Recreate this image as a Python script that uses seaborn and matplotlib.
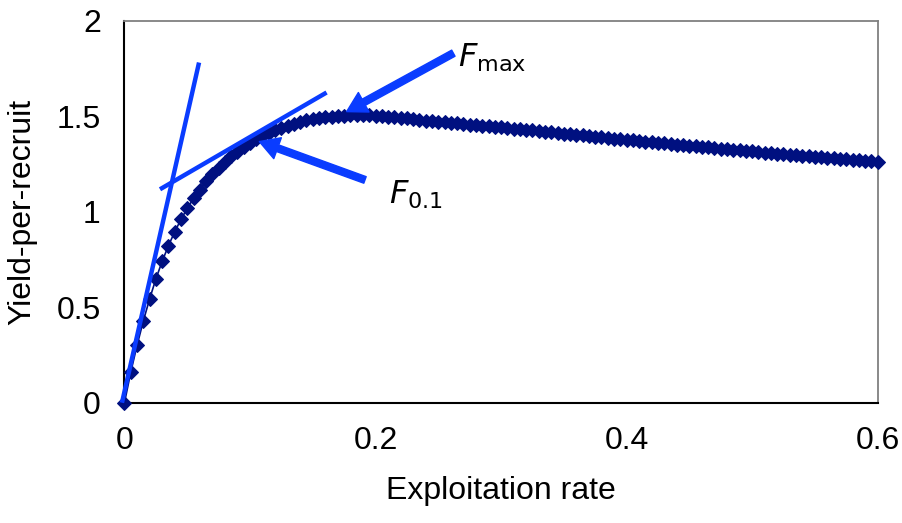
import matplotlib
matplotlib.use("Agg")
import matplotlib.pyplot as plt
import pandas as pd
import seaborn as sns

# exploitation rate grid and yield-per-recruit
rate = [0.000, 0.005, 0.010, 0.015, 0.020, 0.025, 0.030, 0.035, 0.040, 0.045,
        0.050, 0.055, 0.060, 0.065, 0.070, 0.075, 0.080, 0.085, 0.090, 0.095,
        0.100, 0.105, 0.110, 0.115, 0.120, 0.125, 0.130, 0.135, 0.140, 0.145,
        0.150, 0.155, 0.160, 0.165, 0.170, 0.175, 0.180, 0.185, 0.190, 0.195,
        0.200, 0.205, 0.210, 0.215, 0.220, 0.225, 0.230, 0.235, 0.240, 0.245,
        0.250, 0.255, 0.260, 0.265, 0.270, 0.275, 0.280, 0.285, 0.290, 0.295,
        0.300, 0.305, 0.310, 0.315, 0.320, 0.325, 0.330, 0.335, 0.340, 0.345,
        0.350, 0.355, 0.360, 0.365, 0.370, 0.375, 0.380, 0.385, 0.390, 0.395,
        0.400, 0.405, 0.410, 0.415, 0.420, 0.425, 0.430, 0.435, 0.440, 0.445,
        0.450, 0.455, 0.460, 0.465, 0.470, 0.475, 0.480, 0.485, 0.490, 0.495,
        0.500, 0.505, 0.510, 0.515, 0.520, 0.525, 0.530, 0.535, 0.540, 0.545,
        0.550, 0.555, 0.560, 0.565, 0.570, 0.575, 0.580, 0.585, 0.590, 0.595,
        0.600]
ypr = [0.000, 0.160, 0.300, 0.428, 0.543, 0.648, 0.740, 0.822, 0.895, 0.960,
       1.018, 1.070, 1.116, 1.160, 1.198, 1.232, 1.262, 1.290, 1.315, 1.340,
       1.362, 1.382, 1.400, 1.415, 1.429, 1.441, 1.452, 1.462, 1.471, 1.479,
       1.486, 1.491, 1.496, 1.499, 1.502, 1.504, 1.505, 1.506, 1.506, 1.505,
       1.504, 1.502, 1.499, 1.496, 1.493, 1.489, 1.485, 1.481, 1.478, 1.475,
       1.472, 1.469, 1.466, 1.463, 1.460, 1.457, 1.454, 1.451, 1.448, 1.445,
       1.442, 1.439, 1.436, 1.433, 1.430, 1.427, 1.424, 1.420, 1.417, 1.414,
       1.410, 1.407, 1.404, 1.400, 1.397, 1.394, 1.390, 1.387, 1.384, 1.380,
       1.377, 1.374, 1.370, 1.367, 1.364, 1.361, 1.358, 1.355, 1.352, 1.349,
       1.346, 1.343, 1.340, 1.337, 1.334, 1.331, 1.328, 1.325, 1.322, 1.319,
       1.316, 1.313, 1.310, 1.308, 1.305, 1.302, 1.299, 1.297, 1.294, 1.291,
       1.288, 1.286, 1.283, 1.280, 1.278, 1.275, 1.272, 1.270, 1.267, 1.265,
       1.262]

# tangent lines (slope at origin, and the F0.1 tangent)
origin_tan_x = [-0.002, 0.0594]
origin_tan_y = [0.0, 1.782]
f01_tan_x = [0.0283, 0.161]
f01_tan_y = [1.118, 1.625]

# arrows: (tail, tip) in data units
fmax_arrow = [(0.262, 1.831), (0.177, 1.525)]
f01_arrow = [(0.1916, 1.167), (0.1074, 1.368)]

x_ticks = [0, 0.2, 0.4, 0.6]
x_tick_labels = ["0", "0.2", "0.4", "0.6"]
y_ticks = [0, 0.5, 1, 1.5, 2]
y_tick_labels = ["0", "0.5", "1", "1.5", "2"]

navy = "#001080"
blue = "#0A3CFF"

sns.set_theme(style="white")
plt.rcParams["font.family"] = ["Liberation Sans", "DejaVu Sans"]
plt.rcParams["mathtext.fontset"] = "dejavusans"

df = pd.DataFrame({"rate": rate, "ypr": ypr})

fig, ax = plt.subplots(figsize=(9.02, 5.23), dpi=100)
fig.subplots_adjust(left=0.138, right=0.973, bottom=0.23, top=0.96)

sns.lineplot(data=df, x="rate", y="ypr", ax=ax, color=navy, linewidth=1.2,
             marker="D", markersize=7, markeredgecolor=navy, clip_on=False,
             zorder=3)

ax.plot(origin_tan_x, origin_tan_y, color=blue, lw=3.2, zorder=4,
        solid_capstyle="butt", clip_on=False)
ax.plot(f01_tan_x, f01_tan_y, color=blue, lw=3.2, zorder=4,
        solid_capstyle="butt")

for tail, tip in (fmax_arrow, f01_arrow):
    ax.annotate("", xy=tip, xytext=tail,
                arrowprops=dict(facecolor=blue, edgecolor=blue, width=5,
                                headwidth=16, headlength=14, shrink=0))

ax.text(0.266, 1.761, r"$F_{\mathrm{max}}$", fontsize=23,
        family="DejaVu Sans", ha="left", va="baseline", color="black")
ax.text(0.211, 1.045, r"$F_{0.1}$", fontsize=23,
        family="DejaVu Sans", ha="left", va="baseline", color="black")

ax.set_xlim(0, 0.6)
ax.set_ylim(0, 2)
ax.set_xticks(x_ticks)
ax.set_xticklabels(x_tick_labels)
ax.set_yticks(y_ticks)
ax.set_yticklabels(y_tick_labels)
ax.tick_params(axis="both", direction="out", length=7, width=1.3,
               color="black", labelsize=23, labelcolor="black", pad=10)
ax.set_xlabel("Exploitation rate", fontsize=23, color="black", labelpad=14)
ax.set_ylabel("Yield-per-recruit", fontsize=23, color="black", labelpad=14)

for side in ("left", "bottom"):
    ax.spines[side].set_color("black")
    ax.spines[side].set_linewidth(1.5)
for side in ("top", "right"):
    ax.spines[side].set_color("#808080")
    ax.spines[side].set_linewidth(1.3)

fig.savefig("out.png", dpi=100)
